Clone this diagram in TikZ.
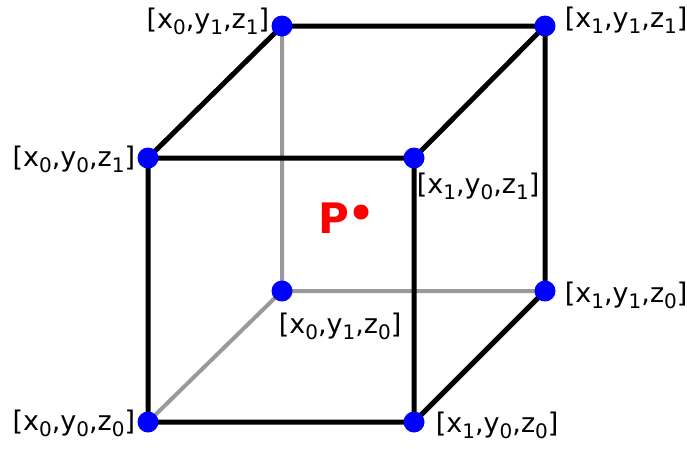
\documentclass[tikz,border=0pt]{standalone}
\usepackage{fontspec}
\setmainfont{DejaVu Sans}
\usetikzlibrary{positioning,backgrounds}
\newcommand{\ix}[1]{\raisebox{-0.22em}{\fontsize{20}{20}\selectfont #1}}

\begin{document}
\begin{tikzpicture}[
  x=1pt,y=-1pt,
  font=\fontsize{27}{30}\selectfont,
  vertex/.style={circle,fill=blue,minimum size=21pt,inner sep=0pt},
  lbl/.style={inner sep=1pt},
  front/.style={draw=black,line width=5pt},
  back/.style={draw=black!40,line width=4pt}
]
\useasboundingbox (0,0) rectangle (687,448);

\node[vertex] (v001) at (148,158) {};
\node[vertex] (v101) at (414,158) {};
\node[vertex] (v011) at (282,26) {};
\node[vertex] (v111) at (545,26) {};
\node[vertex] (v000) at (148,422) {};
\node[vertex] (v100) at (414,422) {};
\node[vertex] (v010) at (282,291) {};
\node[vertex] (v110) at (545,291) {};

% hidden edges first, then the visible ones
\begin{scope}[on background layer]
\path[back] (v011.center) -- (v010.center)
            (v010.center) -- (v110.center)
            (v010.center) -- (v000.center);
\path[front] (v001.center) -- (v101.center) -- (v100.center) -- (v000.center) -- cycle
             (v011.center) -- (v111.center) -- (v110.center)
             (v001.center) -- (v011.center)
             (v101.center) -- (v111.center)
             (v100.center) -- (v110.center);
\end{scope}

\node[lbl,left=1pt of v011,yshift=5pt] {[x\ix{0},y\ix{1},z\ix{1}]};
\node[lbl,right=8pt of v111,yshift=6pt] {[x\ix{1},y\ix{1},z\ix{1}]};
\node[lbl,left=1pt of v001,yshift=-1pt] {[x\ix{0},y\ix{0},z\ix{1}]};
\node[lbl,below right=6pt and -6pt of v101] {[x\ix{1},y\ix{0},z\ix{1}]};
\node[lbl,right=8pt of v110,yshift=-4pt] {[x\ix{1},y\ix{1},z\ix{0}]};
\node[lbl,below right=13pt and -12pt of v010] {[x\ix{0},y\ix{1},z\ix{0}]};
\node[lbl,left=1pt of v000,yshift=-1pt] {[x\ix{0},y\ix{0},z\ix{0}]};
\node[lbl,right=10pt of v100,yshift=-3pt] {[x\ix{1},y\ix{0},z\ix{0}]};

\node[text=red,font=\fontsize{42}{42}\selectfont\bfseries] (p) at (334,218) {P};
\node[circle,fill=red,minimum size=15pt,inner sep=0pt] (pdot) at (361,212) {};
\end{tikzpicture}
\end{document}
